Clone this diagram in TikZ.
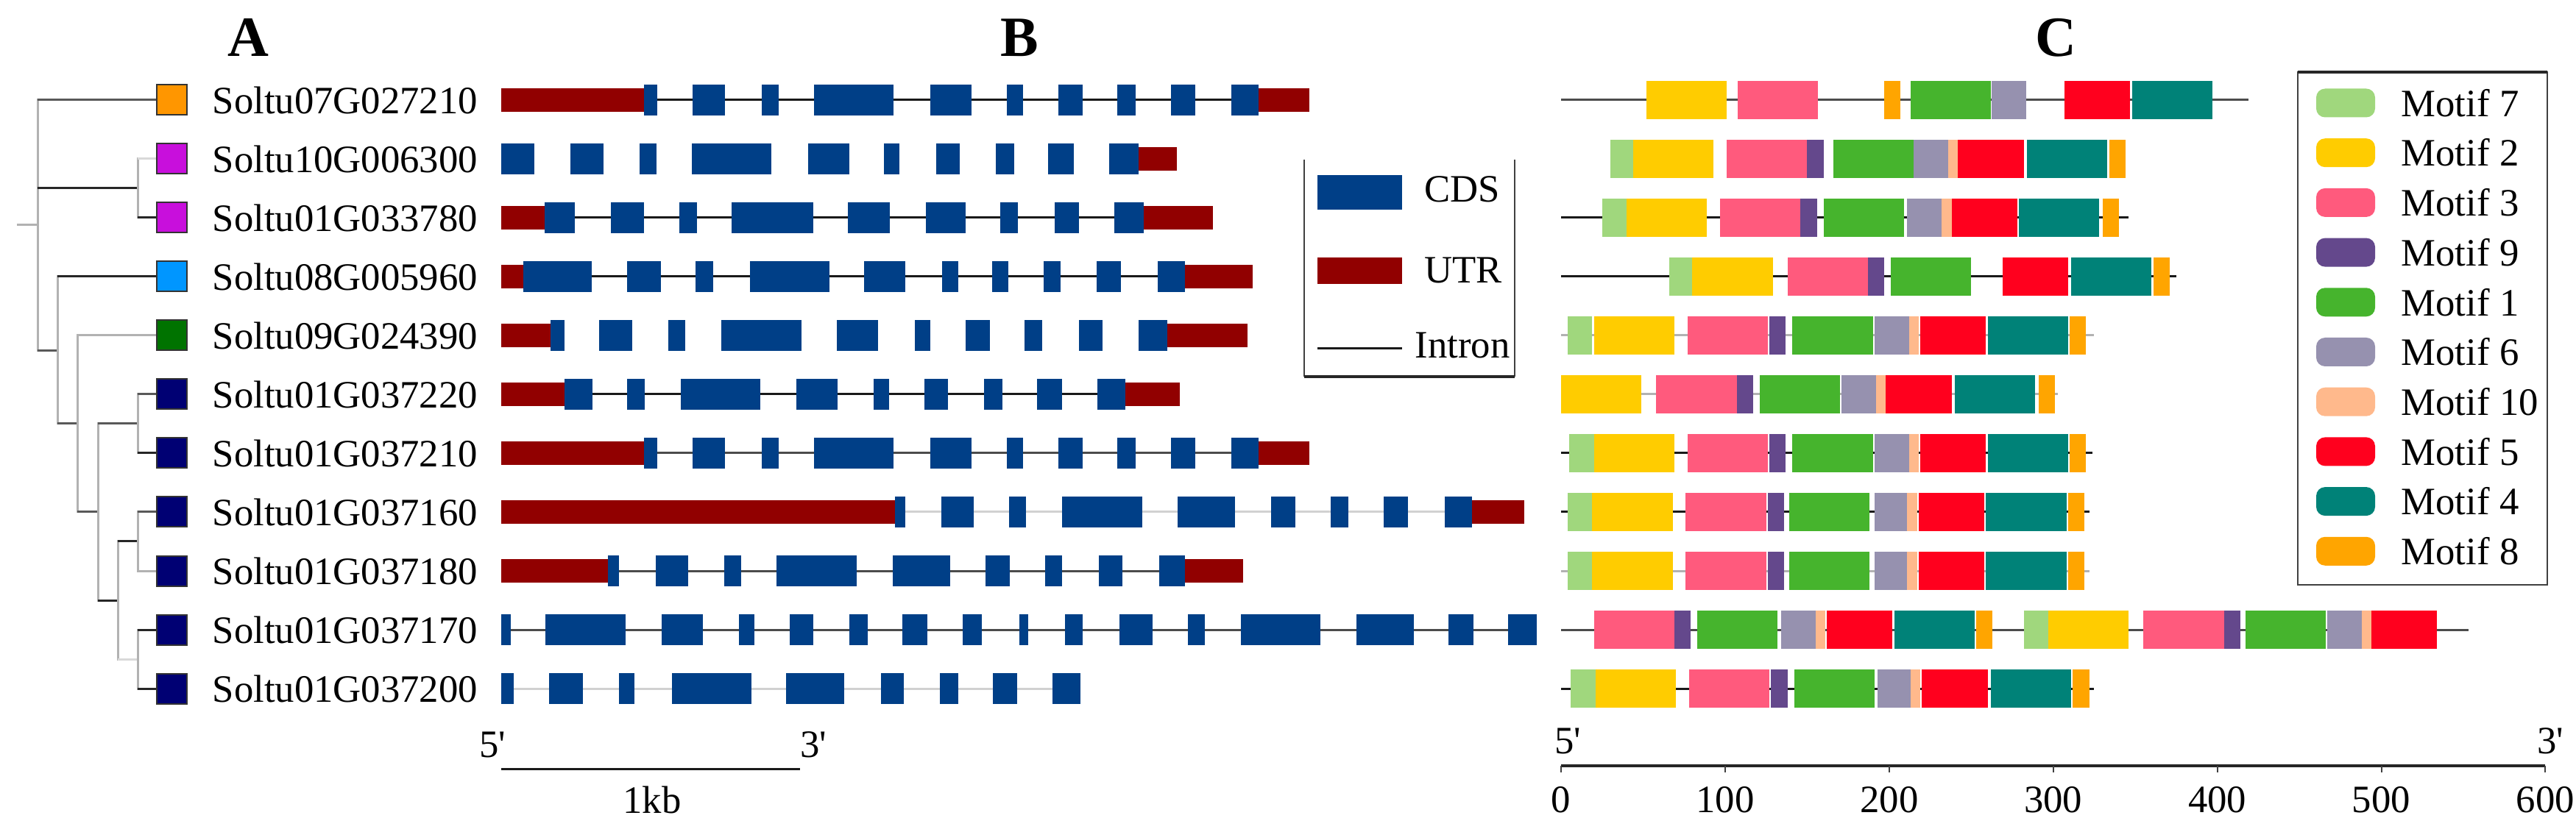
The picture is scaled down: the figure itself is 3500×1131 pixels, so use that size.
\documentclass[tikz,border=0pt]{standalone}
\usepackage{fontspec}
\setmainfont{Liberation Serif}
\usetikzlibrary{positioning,calc}

\definecolor{cdsblue}{RGB}{0,63,135}
\definecolor{utrred}{RGB}{145,0,0}
\definecolor{mot1}{RGB}{70,180,45}
\definecolor{mot2}{RGB}{255,204,0}
\definecolor{mot3}{RGB}{255,90,125}
\definecolor{mot4}{RGB}{0,130,120}
\definecolor{mot5}{RGB}{255,0,30}
\definecolor{mot6}{RGB}{150,145,175}
\definecolor{mot7}{RGB}{160,215,125}
\definecolor{mot8}{RGB}{255,165,0}
\definecolor{mot9}{RGB}{100,72,140}
\definecolor{mot10}{RGB}{255,185,140}
\definecolor{sqorange}{RGB}{255,150,0}
\definecolor{sqmagenta}{RGB}{200,15,220}
\definecolor{sqsky}{RGB}{0,150,255}
\definecolor{sqgreen}{RGB}{0,115,0}
\definecolor{sqnavy}{RGB}{0,0,115}

\newcommand{\utrs}[2]{\foreach \a/\b in {#2} \fill[utrred] (\a,#1-16) rectangle (\b,#1+16);}
\newcommand{\cdss}[2]{\foreach \a/\b in {#2} \fill[cdsblue] (\a,#1-21) rectangle (\b,#1+21);}
\newcommand{\motifrow}[2]{\foreach \m/\s in {#2} {\pgfmathsetmacro{\mlen}{{0,49,49,49,49,40,21,15,10,10,6}[\m]}
  \fill[mot\m] ({2121+2.229*\s},#1-26) rectangle ({2121+2.229*(\s+\mlen)},#1+26);}}
\newcommand{\protline}[3]{\draw[#3] (2121,#1) -- ({2121+2.229*#2},#1);}

\begin{document}
\begin{tikzpicture}[x=0.1mm,y=-0.1mm]

\tikzstyle{lab} = [inner sep=0, font={\fontsize{15}{18}\selectfont}];
\tikzstyle{panel} = [inner sep=0, font={\fontsize{22}{26}\selectfont\bfseries}];
\tikzstyle{leafbox} = [draw=black!80, line width=0.2mm, minimum size=4.1mm, inner sep=0];
\tikzstyle{brdark} = [black!85, line width=0.3mm];
\tikzstyle{brmid} = [black!65, line width=0.3mm];
\tikzstyle{brlight} = [black!30, line width=0.3mm];
\tikzstyle{brvlight} = [black!15, line width=0.3mm];
\tikzstyle{intron} = [black!90, line width=0.3mm];
\tikzstyle{introndim} = [black!70, line width=0.3mm];
\tikzstyle{intronpale} = [black!18, line width=0.3mm];
\tikzstyle{legframe} = [black!75, line width=0.2mm];
\tikzstyle{legedge} = [black!85, line width=0.45mm];
\tikzstyle{motkey} = [rounded corners=1.2mm, minimum width=8mm, minimum height=3.9mm, inner sep=0];

\useasboundingbox (0,0) rectangle (3500,1131);

\node[panel, name=pA] at (337,51) {A};
\node[panel, name=pB] at (1385,51) {B};
\node[panel, name=pC] at (2793,51) {C};

\foreach \i/\g/\c in {1/Soltu07G027210/sqorange, 2/Soltu10G006300/sqmagenta, 3/Soltu01G033780/sqmagenta,
  4/Soltu08G005960/sqsky, 5/Soltu09G024390/sqgreen, 6/Soltu01G037220/sqnavy, 7/Soltu01G037210/sqnavy,
  8/Soltu01G037160/sqnavy, 9/Soltu01G037180/sqnavy, 10/Soltu01G037170/sqnavy, 11/Soltu01G037200/sqnavy} {
  \pgfmathsetmacro{\yy}{136+80*(\i-1)}
  \node[leafbox, fill=\c, name=sq\i] at (233.5,\yy) {};
  \node[lab, anchor=west, name=gene\i] at (288,\yy) {\g};
}

\coordinate (root) at (23,306);
\coordinate (n0) at (51,306);
\coordinate (n23) at (187,256);
\coordinate (n4) at (78,477);
\coordinate (n5) at (105,576);
\coordinate (n6) at (133,696);
\coordinate (n67) at (187,576);
\coordinate (n8) at (160,816);
\coordinate (n89) at (187,736);
\coordinate (n1011) at (187,896);

\draw[brlight] (root) -- (n0);
\foreach \p/\c/\s in {n0/sq1/brmid, n0/n23/brdark, n0/n4/brmid, n23/sq2/brvlight, n23/sq3/brdark,
  n4/sq4/brdark, n4/n5/brmid, n5/sq5/brlight, n5/n6/brmid, n6/n67/brmid, n6/n8/brdark,
  n67/sq6/brmid, n67/sq7/brdark, n8/n89/brdark, n8/n1011/brvlight, n89/sq8/brmid,
  n89/sq9/brlight, n1011/sq10/brdark, n1011/sq11/brdark} {
  \draw[brlight] (\p) |- (\c);
  \draw[\s] (\p |- \c) -- (\c);
}

\draw[intron] (893,136) -- (1673,136);
\utrs{136}{681/875,1710/1779}
\cdss{136}{875/893,941/985,1035/1058,1106/1214,1264/1320,1368/1390,1438/1471,1518/1543,1591/1624,1673/1710}

\utrs{216}{1547/1599}
\cdss{216}{681/726,775/820,869/892,940/1048,1098/1154,1201/1222,1272/1304,1353/1378,1424/1459,1507/1547}

\draw[intron] (781,296) -- (1514,296);
\utrs{296}{681/740,1554/1648}
\cdss{296}{740/781,830/875,923/947,994/1105,1152/1209,1258/1312,1359/1383,1433/1466,1514/1554}

\draw[intron] (804,376) -- (1573,376);
\utrs{376}{681/711,1610/1702}
\cdss{376}{711/804,852/898,945/969,1019/1127,1174/1230,1280/1302,1348/1370,1418/1441,1490/1523,1573/1610}

\utrs{456}{681/748,1586/1695}
\cdss{456}{748/767,814/859,908/931,980/1089,1137/1193,1243/1264,1312/1345,1392/1416,1466/1498,1547/1586}

\draw[intron] (805,536) -- (1491,536);
\utrs{536}{681/767,1529/1603}
\cdss{536}{767/805,852/876,925/1033,1082/1138,1187/1208,1256/1288,1337/1362,1409/1443,1491/1529}

\draw[introndim] (893,616) -- (1673,616);
\utrs{616}{681/875,1710/1779}
\cdss{616}{875/893,941/985,1035/1058,1106/1214,1264/1320,1368/1390,1438/1471,1518/1543,1591/1624,1673/1710}

\draw[intronpale] (1230,696) -- (1963,696);
\utrs{696}{681/1216,2000/2071}
\cdss{696}{1216/1230,1279/1323,1371/1394,1443/1552,1600/1678,1727/1760,1808/1832,1880/1913,1963/2000}

\draw[introndim] (841,776) -- (1575,776);
\utrs{776}{681/826,1610/1689}
\cdss{776}{826/841,891/935,984/1007,1055/1164,1213/1291,1339/1372,1420/1443,1493/1525,1575/1610}

\draw[introndim] (694,856) -- (2049,856);
\cdss{856}{681/694,741/850,899/955,1004/1025,1073/1105,1154/1179,1226/1260,1308/1334,1385/1397,1447/1471,1521/1566,1614/1637,1686/1794,1843/1921,1968/2002,2049/2088}

\draw[intronpale] (698,936) -- (1430,936);
\cdss{936}{681/698,746/792,841/862,913/1021,1068/1147,1197/1228,1277/1302,1349/1382,1430/1468}

\draw[legframe] (1772,217) -- (1772,512);
\draw[legframe] (2058,217) -- (2058,512);
\draw[legedge] (1772,512) -- (2058,512);
\node[fill=cdsblue, minimum width=11.5mm, minimum height=4.7mm, inner sep=0, name=keycds] at (1847.5,261.5) {};
\node[fill=utrred, minimum width=11.5mm, minimum height=3.6mm, inner sep=0, name=keyutr] at (1847.5,368) {};
\coordinate (keyintronA) at (1790,474);
\coordinate (keyintronB) at (1905,474);
\draw[intron] (keyintronA) -- (keyintronB);
\node[lab, anchor=west, name=txtcds] at (1935,257) {CDS};
\node[lab, anchor=west, name=txtutr] at (1935,367) {UTR};
\node[lab, anchor=west, name=txtintron] at (1922,470) {Intron};

\coordinate (barA) at (681,1045);
\coordinate (barB) at (1087,1045);
\draw[intron] (barA) -- (barB);
\node[lab, name=fiveB] at (669,1012) {5\textquotesingle};
\node[lab, name=threeB] at (1105,1012) {3\textquotesingle};
\node[lab, name=kb] at (886,1087) {1kb};

\protline{136}{419}{introndim}
\motifrow{136}{2/52,3/107.5,8/197,1/213,6/262.5,5/307,4/348}
\motifrow{216}{7/30,2/44,3/101,9/150,1/166,6/215,10/236,5/242,4/284,8/334}
\protline{296}{346}{intron}
\motifrow{296}{7/25,2/40,3/97,9/146,1/160,6/211,10/232,5/238,4/279,8/330}
\protline{376}{375}{intron}
\motifrow{376}{7/66,2/80,3/138,9/187,1/201,5/269,4/311,8/361}
\protline{456}{325}{brlight}
\motifrow{456}{7/4,2/20,3/77,9/127,1/141,6/191,10/212,5/219,4/260,8/310}
\protline{536}{303}{brlight}
\motifrow{536}{2/0,3/58,9/107,1/121,6/171,10/192,5/198,4/240,8/291}
\protline{616}{324}{intron}
\motifrow{616}{7/5,2/20,3/77,9/127,1/141,6/191,10/212,5/219,4/260,8/310}
\protline{696}{322}{intron}
\motifrow{696}{7/4,2/19,3/76,9/126,1/139,6/191,10/211,5/218,4/259,8/309}
\protline{776}{322}{brlight}
\motifrow{776}{7/4,2/19,3/76,9/126,1/139,6/191,10/211,5/218,4/259,8/309}
\protline{856}{553}{introndim}
\motifrow{856}{3/20,9/69,1/83,6/134,10/155,5/162,4/203,8/253,7/282,2/297,3/355,9/404,1/417,6/467,10/488,5/494}
\protline{936}{325}{intron}
\motifrow{936}{7/6,2/21,3/78,9/128,1/142,6/193,10/213,5/220,4/262,8/312}

\draw[legframe] (3121.5,98) rectangle (3461,794.5);
\draw[legedge] (3121.5,98) -- (3461,98);
\foreach \k/\m in {0/7,1/2,2/3,3/9,4/1,5/6,6/10,7/5,8/4,9/8} {
  \node[motkey, fill=mot\m, name=key\m] at (3187,{140+67.7*\k}) {};
  \node[lab, anchor=west, name=keytxt\m] at (3262,{140+67.7*\k}) {Motif \m};
}

\coordinate (axisA) at (2121,1041);
\coordinate (axisB) at (3458.4,1041);
\draw[legedge] (axisA) -- (axisB);
\foreach \t in {0,100,...,600} {
  \draw[legframe] ({2121+2.229*\t},1041) -- ++(0,9);
  \node[lab, name=tick\t] at ({2121+2.229*\t},1087) {\t};
}
\node[lab, name=fiveC] at (2130,1007) {5\textquotesingle};
\node[lab, name=threeC] at (3465,1007) {3\textquotesingle};
\end{tikzpicture}
\end{document}
